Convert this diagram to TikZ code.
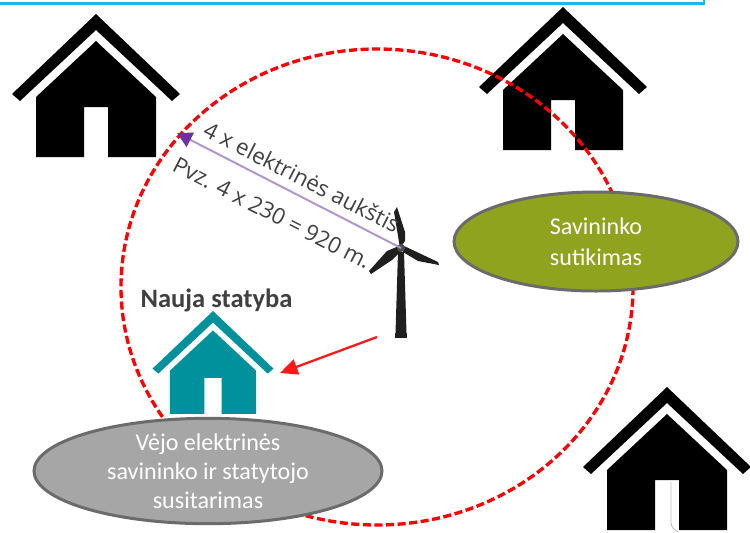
\documentclass[tikz,border=0pt]{standalone}
\usepackage{fontspec}
\setmainfont{Carlito}
\newfontfamily\rotfont{Open Sans}
\usepackage{tikz}
\usetikzlibrary{shapes.geometric}
\usetikzlibrary{arrows.meta}
\definecolor{tealhouse}{HTML}{00919C}
\definecolor{oliveoval}{HTML}{8FA31E}
\definecolor{greyoval}{HTML}{A6A6A6}
\definecolor{arrowpurple}{HTML}{7030A0}
\definecolor{linepurple}{HTML}{B094D0}
\definecolor{topblue}{HTML}{1FB5E8}
\definecolor{labelgrey}{HTML}{404040}
\tikzset{
	house/.pic={
		\fill[pic actions] (0,0) -- (84,80) -- (76,87) -- (0,16) -- (-76,87) -- (-84,80) -- cycle;
		\fill[pic actions] (0,27) -- (60,83) -- (60,143) -- (12,143) -- (12,93) -- (-12,93) -- (-12,143) -- (-60,143) -- (-60,83) -- cycle;
	},
	oval/.style={ellipse, draw=black!58, line width=1.7pt, text=white, align=center, inner sep=0pt, font=\fontsize{13.7}{16.4}\selectfont},
	rotlabel/.style={rotate=-27, text=labelgrey, font=\rotfont\fontsize{12.7}{15}\selectfont},
	blade/.style={fill=black!88}
}
\begin{document}
\begin{tikzpicture}[x=0.02cm,y=-0.02cm]
		\useasboundingbox (0,0) rectangle (750,532);

		% houses
		\pic[fill=black] at (96,14) {house};
		\pic[fill=black] at (563,7) {house};
		\pic[fill=black] at (667,387) {house};
		\draw[black!25, line width=0.5pt] (671,482) -- (671,522) .. controls (671,527) and (674,530) .. (678,532);
		\pic[fill=tealhouse, scale=0.72] at (213,311) {house};

		% top edge
		\draw[topblue, line width=1.3pt] (0,3.5) -- (704,3.5) -- (704,0);

		% distance circle
		\draw[red, dash pattern=on 4.6pt off 2pt, line width=1.9pt] (377,287) ellipse [x radius=256, y radius=238];

		% turbine
		\coordinate (hub) at (401,248);
		\coordinate (edge) at (177,133);
		\fill[blade] (398,252) -- (404,252) -- (406.5,333) -- (395.5,333) -- cycle;
		\fill[blade] (395,333) rectangle (407,338);
		\fill[blade] (400,248) -- (394,212) -- (397,207) -- (405,232) -- (405,241) -- cycle;
		\fill[blade] (399,246) -- (387,251) -- (369,271) -- (371,274) -- (392,260) -- (401,251) -- cycle;
		\fill[blade] (402,245) -- (438,262) -- (439,265) -- (418,261) -- (403,252) -- cycle;
		\fill[black!70] (hub) circle (4);

		% arrows
		\draw[-{Triangle[length=8.5pt,width=9pt,color=arrowpurple]}, linepurple, line width=1.1pt] (hub) -- (edge);
		\coordinate (windfrom) at (377,337);
		\coordinate (windto) at (280,373);
		\draw[-{Triangle[length=10pt,width=9pt]}, red!90!white, line width=1.3pt] (windfrom) -- (windto);

		% labels
		\node[fill=oliveoval, oval, minimum width=284*0.02cm, minimum height=99*0.02cm] (owner) at (596,241.5) {\raisebox{-3pt}{Savininko}\\\raisebox{-4pt}{sutikimas}};
		\node[fill=greyoval, oval, minimum width=348*0.02cm, minimum height=94*0.02cm] (deal) at (208,471) {Vėjo elektrinės\\savininko ir statytojo\\susitarimas};
		\node[text=labelgrey, font=\fontsize{15.1}{18}\selectfont\bfseries] (newbuild) at (216.5,300) {Nauja statyba};
		\node[rotlabel] (heightlabel) at (302,177) {4 x elektrinės aukštis};
		\node[rotlabel] (examplelabel) at (272,213) {Pvz. 4 x 230 = 920 m.};
	\end{tikzpicture}
\end{document}
